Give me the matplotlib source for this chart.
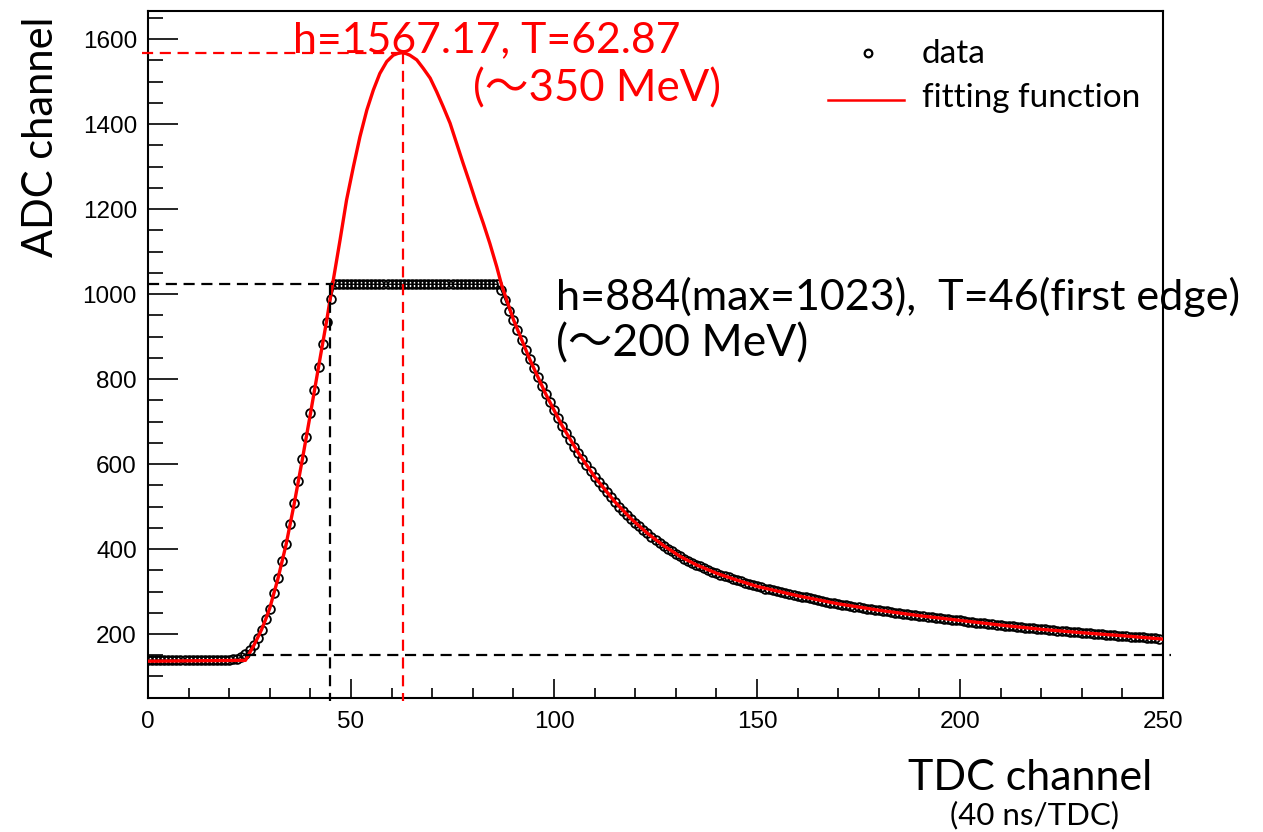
import matplotlib
matplotlib.use("Agg")
import matplotlib.pyplot as plt
from matplotlib.ticker import MultipleLocator
from matplotlib.lines import Line2D

plt.rcParams["font.family"] = ["Liberation Sans", "DejaVu Sans"]

# ---------------- data ----------------
tdc = list(range(0, 250))

adc_baseline = [139, 138, 138, 139, 138, 138, 139, 138, 138, 138,
                139, 138, 138, 138, 139, 138, 138, 139, 138, 138,
                139, 140]                                   # 0..21
adc_rise = [141, 146, 152, 162, 174, 190, 209, 235, 260, 296,
            331, 372, 412, 460, 509, 559, 612, 664, 719, 774,
            828, 882, 935, 988]                             # 22..45
adc_flat = [1023] * 41                                      # 46..86
adc_decay = [1009, 985, 961, 938, 915, 892, 869, 847, 826, 805,   # 87..96
             784, 764, 745, 726, 708, 690, 673, 657, 641, 626,    # 97..106
             611, 597, 583, 570, 557, 545, 533, 522, 511, 500,    # 107..116
             490, 480, 471, 462, 453, 445, 437, 429, 422, 415,    # 117..126
             408, 401, 395, 389, 383, 377, 372, 367, 363, 359,    # 127..136
             355, 351, 347, 343, 339, 336, 333, 330, 327, 324,    # 137..146
             321, 318, 315, 312, 310, 307, 305, 303, 301, 298,    # 147..156
             296, 294, 292, 290, 288, 286, 284, 282, 280, 278,    # 157..166
             276, 274, 273, 271, 269, 268, 266, 264, 263, 261,    # 167..176
             260, 258, 257, 256, 254, 253, 252, 250, 249, 248,    # 177..186
             246, 245, 244, 243, 242, 240, 239, 238, 237, 236,    # 187..196
             235, 234, 233, 232, 231, 229, 228, 227, 226, 225,    # 197..206
             224, 223, 222, 221, 220, 219, 218, 217, 216, 215,    # 207..216
             214, 213, 212, 211, 211, 210, 209, 208, 207, 206,    # 217..226
             205, 205, 204, 203, 202, 202, 201, 200, 199, 198,    # 227..236
             198, 197, 196, 196, 195, 194, 193, 193, 192, 191,    # 237..246
             190, 190, 189]                                       # 247..249
adc = adc_baseline + adc_rise + adc_flat + adc_decay

fit_x = [0, 24, 25, 26, 27, 28, 29, 30, 32, 34, 36, 38, 40, 42, 44, 45.5,
         47.3, 48.9, 50.6, 52.2, 53.9, 55.5, 57.1, 58.8, 60.4, 61.5, 62.5,
         63.5, 64.5, 66.2, 67.8, 69.5, 71.1, 72.7, 74.4, 76.0, 77.6, 79.3,
         80.9, 82.6, 84.2, 85.9, 87.1, 90, 94, 98, 102, 106, 110, 115, 119,
         123, 127, 131, 135, 140, 145, 150, 160, 170, 180, 190, 200, 210,
         220, 230, 240, 250]
fit_y = [136, 138, 155, 172, 191, 211, 235, 261, 330, 410, 506, 610, 718,
         828, 937, 1025, 1127, 1221, 1300, 1370, 1433, 1480, 1519, 1547,
         1562, 1566, 1568, 1566, 1562, 1551, 1531, 1508, 1476, 1441, 1402,
         1355, 1308, 1260, 1213, 1166, 1119, 1064, 1021, 940, 847, 764, 690,
         626, 570, 511, 471, 437, 408, 383, 363, 343, 327, 312, 290, 271,
         256, 243, 232, 221, 211, 203, 196, 188]

fit_h, fit_T = 1567.17, 62.87
dig_h, dig_T = 1023, 44.8
base_level = 150
base_start = 24

# ---------------- figure ----------------
W, H = 1263, 832
fig = plt.figure(figsize=(W / 100, H / 100), dpi=100)
ax = fig.add_axes([148 / W, 1 - 698 / H, (1163 - 148) / W, (698 - 11) / H])

ax.plot(tdc, adc, color="black", lw=1.0, zorder=3)
ax.plot(tdc, adc, ls="none", marker="o", ms=6.3, mfc="none", mec="black",
        mew=1.3, zorder=3)
ax.plot(fit_x, fit_y, color="red", lw=2.4, zorder=4)

dash = (0, (5.0, 3.0))
# red guides
ax.plot([-1.5, fit_T], [fit_h, fit_h], color="red", lw=1.6, ls=dash,
        clip_on=False, zorder=5)
ax.plot([fit_T, fit_T], [fit_h, 43], color="red", lw=1.6, ls=dash,
        clip_on=False, zorder=5)
# black guides
ax.plot([0, 45.5], [dig_h, dig_h], color="black", lw=1.6, ls=dash,
        clip_on=False, zorder=5)
ax.plot([dig_T, dig_T], [dig_h, 43], color="black", lw=1.6, ls=dash,
        clip_on=False, zorder=5)
ax.plot([base_start, 252], [base_level, base_level], color="black", lw=1.6,
        ls=dash, clip_on=False, zorder=5)

ax.set_xlim(0, 250)
ax.set_ylim(49.4, 1666)
ax.xaxis.set_major_locator(MultipleLocator(50))
ax.xaxis.set_minor_locator(MultipleLocator(10))
ax.yaxis.set_major_locator(MultipleLocator(200))
ax.yaxis.set_minor_locator(MultipleLocator(50))
ax.set_yticks([200, 400, 600, 800, 1000, 1200, 1400, 1600])

ax.tick_params(axis="x", which="major", direction="in", length=14, width=1.2,
               labelsize=17.5, pad=9, top=False)
ax.tick_params(axis="x", which="minor", direction="in", length=7.5, width=1.2,
               top=False)
ax.tick_params(axis="y", which="major", direction="in", length=21.5, width=1.2,
               labelsize=17.5, pad=8, right=False)
ax.tick_params(axis="y", which="minor", direction="in", length=11, width=1.2,
               right=False)
for sp in ax.spines.values():
    sp.set_linewidth(1.5)

fam = ["Lato", "Noto Sans CJK JP", "DejaVu Sans"]

def fx(px):
    return px / W

def fy(py):
    return 1 - py / H

# axis titles
fig.text(fx(1030), fy(790), "TDC channel", family=fam, fontsize=31,
         ha="center", va="baseline")
fig.text(fx(1035), fy(824), "(40 ns/TDC)", family=fam, fontsize=22.5,
         ha="center", va="baseline")
fig.text(fx(60), fy(137), "ADC channel", family=fam, fontsize=30,
         rotation=90, ha="right", va="center")

# annotations
fig.text(fx(293), fy(52), "h=1567.17, T=62.87", family=fam, fontsize=30.8,
         color="red", ha="left", va="baseline")
fig.text(fx(473), fy(101), "(\uff5e350 MeV)", family=fam, fontsize=31.5,
         color="red", ha="left", va="baseline")
fig.text(fx(556), fy(310), "h=884(max=1023),  T=46(first edge)", family=fam,
         fontsize=31.1, color="black", ha="left", va="baseline")
fig.text(fx(556), fy(356), "(\uff5e200 MeV)", family=fam, fontsize=32,
         color="black", ha="left", va="baseline")

# legend (manual)
fig.add_artist(Line2D([fx(868)], [fy(52.5)], ls="none", marker="o", ms=5.5,
                      mfc="none", mec="black", mew=1.6))
fig.add_artist(Line2D([fx(828), fx(904)], [fy(100), fy(100)], color="red",
                      lw=1.8))
fig.text(fx(922), fy(63), "data", family=fam, fontsize=24, ha="left",
         va="baseline")
fig.text(fx(922), fy(107), "fitting function", family=fam, fontsize=24,
         ha="left", va="baseline")

fig.savefig("out.png", dpi=100)
